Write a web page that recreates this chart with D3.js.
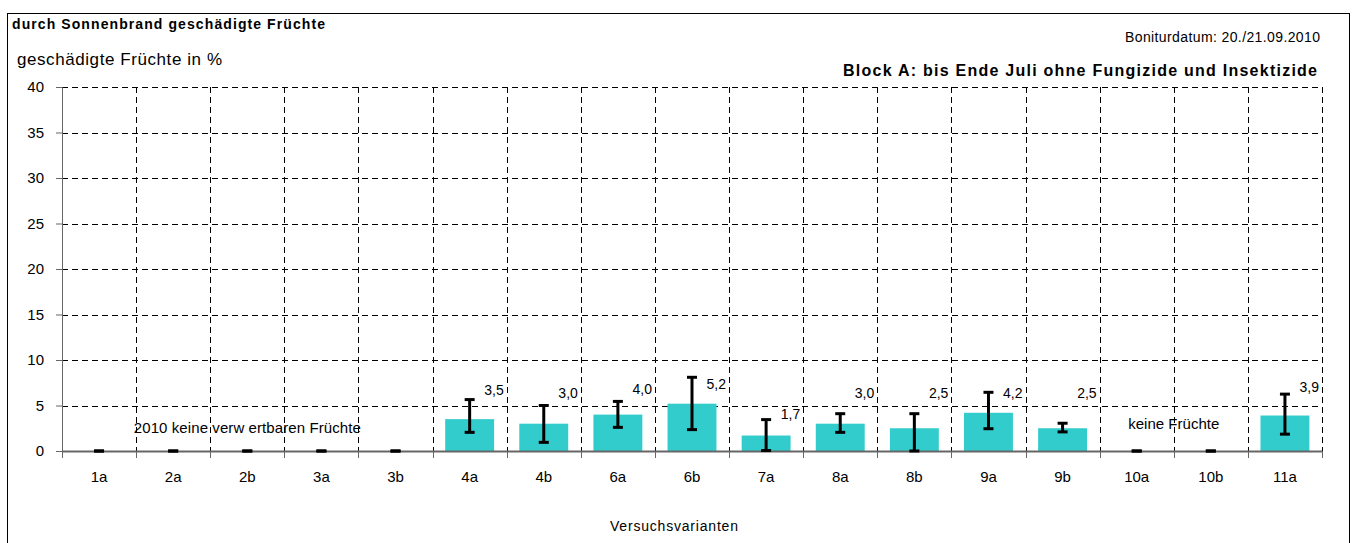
<!DOCTYPE html>
<html>
<head>
<meta charset="utf-8">
<script src="https://cdn.jsdelivr.net/npm/d3@7"></script>
<style>
  body { margin: 0; background: #fff; }
  text { font-family: "Liberation Sans", Arial, sans-serif; }
</style>
</head>
<body>
<div id="chart"></div>
<script>
// Data
const varianten = ['1a', '2a', '2b', '3a', '3b', '4a', '4b', '6a', '6b', '7a', '8a', '8b', '9a', '9b', '10a', '10b', '11a'];
const werte     = [0, 0, 0, 0, 0, 3.5, 3.0, 4.0, 5.2, 1.7, 3.0, 2.5, 4.2, 2.5, 0, 0, 3.9];
const fehlerOben  = [0, 0, 0, 0, 0, 5.65, 5.0, 5.45, 8.1, 3.45, 4.1, 4.1, 6.45, 3.05, 0, 0, 6.25];
const fehlerUnten = [0, 0, 0, 0, 0, 2.05, 0.95, 2.6, 2.35, 0.05, 2.05, 0, 2.45, 2.1, 0, 0, 1.85];
// where each value label sits, in data units
const labelHoehe  = [null, null, null, null, null, 6.7, 6.35, 6.8, 7.35, 4.05, 6.35, 6.35, 6.35, 6.35, null, null, 7.0];
const yTicks = [0, 5, 10, 15, 20, 25, 30, 35, 40];

const width = 1353, height = 543;
const margin = { top: 87, right: 31, bottom: 92, left: 62 };
const chartWidth = width - margin.left - margin.right;
const chartHeight = height - margin.top - margin.bottom;

const svg = d3.select('#chart').append('svg')
    .attr('width', width)
    .attr('height', height);

// outer frame
svg.append('rect')
    .attr('x', 7.5).attr('y', 13.5)
    .attr('width', 1342).attr('height', 540)
    .attr('fill', 'none')
    .attr('stroke', '#000')
    .attr('stroke-width', 1);

const chart = svg.append('g')
    .attr('transform', `translate(${margin.left}, ${margin.top})`);

const xScale = d3.scaleBand()
    .domain(varianten)
    .range([0, chartWidth])
    .paddingInner(0.34)
    .paddingOuter(0.17);

const yScale = d3.scaleLinear()
    .domain([0, 40])
    .range([chartHeight, 0]);

const step = xScale.step();
const boundaries = d3.range(varianten.length + 1).map(i => i * step);

// horizontal grid lines
chart.selectAll('.hgrid')
    .data(yTicks.filter(d => d > 0))
    .enter()
    .append('line')
    .attr('x1', 0).attr('x2', chartWidth)
    .attr('y1', d => Math.round(yScale(d)) + 0.5)
    .attr('y2', d => Math.round(yScale(d)) + 0.5)
    .attr('stroke', '#000')
    .attr('stroke-dasharray', '6,4');

// vertical grid lines at category boundaries
chart.selectAll('.vgrid')
    .data(boundaries.slice(1))
    .enter()
    .append('line')
    .attr('x1', d => Math.round(d) + 0.5)
    .attr('x2', d => Math.round(d) + 0.5)
    .attr('y1', 0).attr('y2', chartHeight)
    .attr('stroke', '#000')
    .attr('stroke-dasharray', '6,4');

// bars
chart.selectAll('.bar')
    .data(varianten)
    .enter()
    .append('rect')
    .attr('x', d => xScale(d))
    .attr('y', (d, i) => yScale(werte[i]))
    .attr('width', xScale.bandwidth())
    .attr('height', (d, i) => chartHeight - yScale(werte[i]))
    .style('fill', '#33CCCC');

// y axis
const yAxis = d3.axisLeft(yScale).tickValues(yTicks).tickSize(6).tickPadding(12);
const yG = chart.append('g').call(yAxis);
yG.select('.domain').attr('stroke', '#666');
yG.selectAll('.tick line').attr('stroke', '#666');
yG.selectAll('.tick text')
    .attr('fill', '#000')
    .style('font-family', '"Liberation Sans", Arial, sans-serif')
    .style('font-size', '15px');

// x axis: ticks at the category boundaries
const xG = chart.append('g').attr('transform', `translate(0, ${chartHeight})`);
xG.append('line')
    .attr('x1', 0).attr('x2', chartWidth)
    .attr('y1', 0.5).attr('y2', 0.5)
    .attr('stroke', '#666')
    .attr('stroke-width', 2);
xG.selectAll('.xtick')
    .data(boundaries)
    .enter()
    .append('line')
    .attr('x1', d => Math.round(d) + 0.5)
    .attr('x2', d => Math.round(d) + 0.5)
    .attr('y1', 0).attr('y2', 7)
    .attr('stroke', '#666');
xG.selectAll('.xlabel')
    .data(varianten)
    .enter()
    .append('text')
    .attr('x', d => xScale(d) + xScale.bandwidth() / 2)
    .attr('y', 31)
    .attr('text-anchor', 'middle')
    .style('font-size', '15px')
    .text(d => d);

// error bars
const capW = 5;
const err = chart.selectAll('.err')
    .data(varianten)
    .enter()
    .append('g')
    .attr('transform', d => `translate(${xScale(d) + xScale.bandwidth() / 2}, 0)`);
err.append('line')
    .attr('y1', (d, i) => yScale(fehlerOben[i]))
    .attr('y2', (d, i) => yScale(fehlerUnten[i]))
    .attr('stroke', '#000').attr('stroke-width', 3);
err.append('line')
    .attr('x1', -capW).attr('x2', capW)
    .attr('y1', (d, i) => yScale(fehlerOben[i]))
    .attr('y2', (d, i) => yScale(fehlerOben[i]))
    .attr('stroke', '#000').attr('stroke-width', 3);
err.append('line')
    .attr('x1', -capW).attr('x2', capW)
    .attr('y1', (d, i) => yScale(fehlerUnten[i]))
    .attr('y2', (d, i) => yScale(fehlerUnten[i]))
    .attr('stroke', '#000').attr('stroke-width', 3);

// value labels
chart.selectAll('.vlabel')
    .data(varianten.filter((d, i) => werte[i] > 0))
    .enter()
    .append('text')
    .attr('x', d => xScale(d) + xScale.bandwidth() + step * 0.17 - 3)
    .attr('y', d => yScale(labelHoehe[varianten.indexOf(d)]) + 5)
    .attr('text-anchor', 'end')
    .style('font-size', '14px')
    .text(d => d3.format('.1f')(werte[varianten.indexOf(d)]).replace('.', ','));

// annotations
chart.append('text')
    .attr('x', (xScale('1a') + xScale('3b') + xScale.bandwidth()) / 2)
    .attr('y', yScale(2.0))
    .attr('text-anchor', 'middle')
    .attr('textLength', 227)
    .attr('lengthAdjust', 'spacing')
    .style('font-size', '15px')
    .text('2010 keine verw ertbaren Früchte');

chart.append('text')
    .attr('x', (xScale('10a') + xScale('10b') + xScale.bandwidth()) / 2)
    .attr('y', yScale(2.4))
    .attr('text-anchor', 'middle')
    .attr('textLength', 91)
    .attr('lengthAdjust', 'spacing')
    .style('font-size', '15px')
    .text('keine Früchte');

// titles
svg.append('text')
    .attr('x', 12).attr('y', 29)
    .attr('font-weight', 'bold')
    .attr('textLength', 313)
    .attr('lengthAdjust', 'spacing')
    .style('font-size', '14px')
    .text('durch Sonnenbrand geschädigte Früchte');

svg.append('text')
    .attr('x', 17).attr('y', 65)
    .attr('textLength', 205)
    .attr('lengthAdjust', 'spacing')
    .style('font-size', '17px')
    .text('geschädigte Früchte in %');

svg.append('text')
    .attr('x', 1125).attr('y', 42)
    .attr('textLength', 195)
    .attr('lengthAdjust', 'spacing')
    .style('font-size', '14px')
    .text('Boniturdatum: 20./21.09.2010');

svg.append('text')
    .attr('x', 843).attr('y', 76)
    .attr('font-weight', 'bold')
    .attr('textLength', 474)
    .attr('lengthAdjust', 'spacing')
    .style('font-size', '16px')
    .text('Block A: bis Ende Juli ohne Fungizide und Insektizide');

svg.append('text')
    .attr('x', 610)
    .attr('y', 531)
    .attr('textLength', 128)
    .attr('lengthAdjust', 'spacing')
    .style('font-size', '14px')
    .text('Versuchsvarianten');
</script>
</body>
</html>
